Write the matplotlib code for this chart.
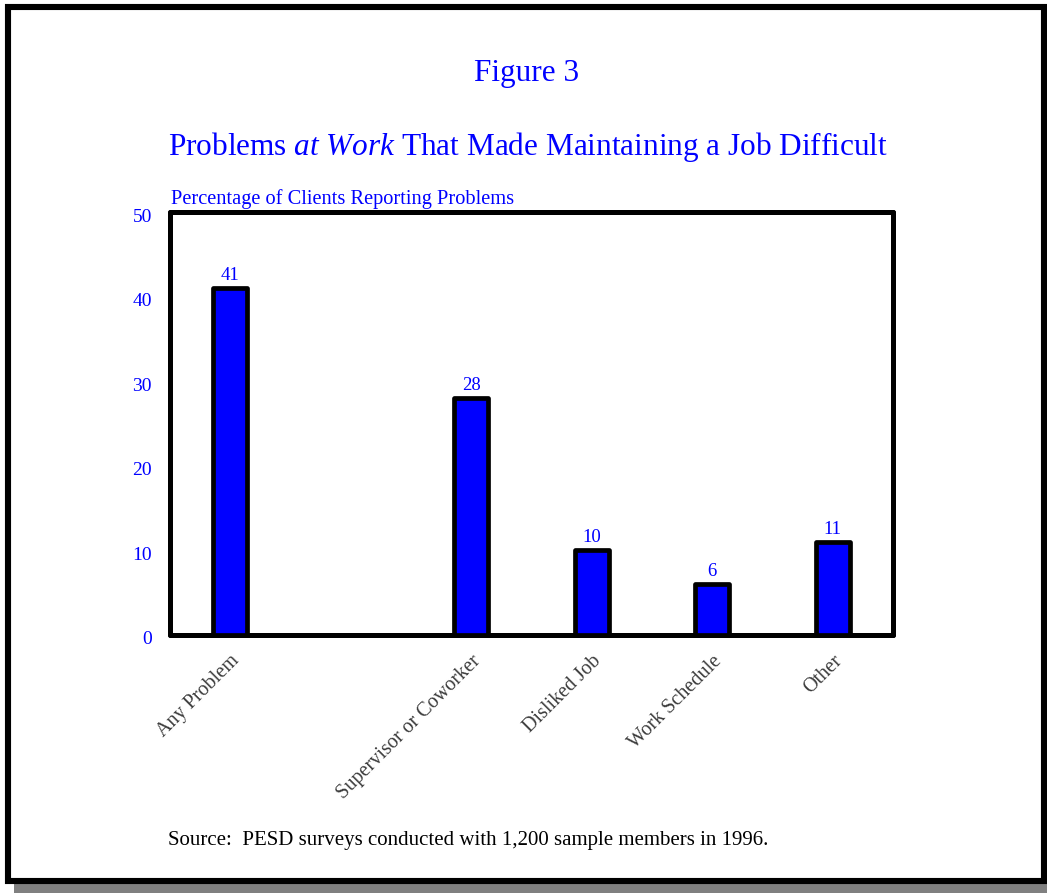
import matplotlib
matplotlib.use("Agg")
import matplotlib.pyplot as plt
import matplotlib.transforms as mtransforms
from matplotlib.patches import Rectangle

BLUE = "#0000ff"
INK = "#000000"
LABEL_GREY = "#3c3c3c"

plt.rcParams["font.family"] = ["Liberation Serif", "DejaVu Serif"]
plt.rcParams["mathtext.fontset"] = "custom"
plt.rcParams["mathtext.rm"] = "Liberation Serif"
plt.rcParams["mathtext.it"] = "Liberation Serif:style=italic"

# slot 1 is left empty in the original chart
positions = [0, 2, 3, 4, 5]
categories = ["Any Problem", "Supervisor or Coworker", "Disliked Job", "Work Schedule", "Other"]
values = [41, 28, 10, 6, 11]
yticks = [0, 10, 20, 30, 40, 50]

W, H = 1047, 893
fig = plt.figure(figsize=(W / 100, H / 100), dpi=100)
fig.patch.set_facecolor("white")

# page frame with drop shadow (pixel coords -> figure fraction)
def px_rect(x0, y0, x1, y1, **kw):
    return Rectangle((x0 / W, 1 - y1 / H), (x1 - x0) / W, (y1 - y0) / H,
                     transform=fig.transFigure, **kw)

fig.patches.append(px_rect(14, 16, 1060, 900, facecolor="#808080", edgecolor="none", zorder=0))
fig.patches.append(px_rect(8, 7, 1044, 881, facecolor="white", edgecolor=INK, linewidth=4.4, zorder=1))

ax = fig.add_axes([170 / W, 1 - 635 / H, (893 - 170) / W, (635 - 212) / H])
ax.set_zorder(2)
ax.set_facecolor("white")

bars = ax.bar(positions, values, width=0.28, color=BLUE, edgecolor=INK, linewidth=3.4, zorder=3)
for b in bars:
    b.set_joinstyle("round")
for x, v in zip(positions, values):
    ax.annotate(f"{v}", xy=(x, v), xytext=(0, 3), textcoords="offset points",
                ha="center", va="bottom", fontsize=13.5, color=BLUE)

ax.set_xlim(-0.5, 5.5)
ax.set_ylim(0, 50)
ax.set_yticks(yticks)
ax.set_yticklabels([str(t) for t in yticks], fontsize=14, color=BLUE)
ax.set_xticks(positions)
ax.set_xticklabels(categories, rotation=45, ha="right", rotation_mode="anchor",
                   fontsize=14.5, color=LABEL_GREY)
ax.tick_params(axis="y", length=0, pad=13)
ax.tick_params(axis="x", length=0, pad=12)
# y labels sit a touch below their gridline in the original
shift = mtransforms.ScaledTranslation(0, -3 / 100, fig.dpi_scale_trans)
for lab in ax.get_yticklabels():
    lab.set_transform(lab.get_transform() + shift)
for side in ax.spines:
    ax.spines[side].set_linewidth(3.6)
    ax.spines[side].set_color(INK)
    ax.spines[side].set_capstyle("round")

fig.text(527 / W, 1 - 73 / H, "Figure 3", ha="center", va="center", fontsize=22.5, color=BLUE)
fig.text(528 / W, 1 - 147 / H,
         r"Problems $\mathit{at\ Work}$ That Made Maintaining a Job Difficult",
         ha="center", va="center", fontsize=22.5, color=BLUE)
fig.text(171 / W, 1 - 199 / H, "Percentage of Clients Reporting Problems",
         ha="left", va="center", fontsize=14.7, color=BLUE)
fig.text(168 / W, 1 - 840 / H, "Source:  PESD surveys conducted with 1,200 sample members in 1996.",
         ha="left", va="center", fontsize=15, color=INK)

fig.savefig("out.png", dpi=100, facecolor="white")
